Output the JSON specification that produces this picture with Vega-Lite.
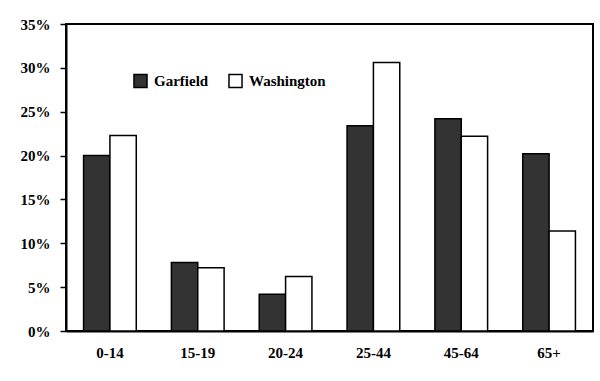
{
  "$schema": "https://vega.github.io/schema/vega-lite/v6.json",
  "width": 527,
  "height": 307,
  "padding": {"left": 66, "top": 24, "right": 7, "bottom": 50},
  "autosize": {"type": "none"},
  "background": "white",
  "config": {
    "view": {"stroke": "black", "strokeWidth": 2},
    "font": "Liberation Serif",
    "axis": {"labelFont": "Liberation Serif", "labelFontWeight": "bold", "labelFontSize": 15, "labelColor": "black", "domainColor": "black", "tickColor": "black", "grid": false, "title": null}
  },
  "data": {
    "values": [
      {"age": "0-14", "county": "Garfield", "pct": 20.0},
      {"age": "0-14", "county": "Washington", "pct": 22.3},
      {"age": "15-19", "county": "Garfield", "pct": 7.8},
      {"age": "15-19", "county": "Washington", "pct": 7.2},
      {"age": "20-24", "county": "Garfield", "pct": 4.2},
      {"age": "20-24", "county": "Washington", "pct": 6.2},
      {"age": "25-44", "county": "Garfield", "pct": 23.4},
      {"age": "25-44", "county": "Washington", "pct": 30.6},
      {"age": "45-64", "county": "Garfield", "pct": 24.2},
      {"age": "45-64", "county": "Washington", "pct": 22.2},
      {"age": "65+", "county": "Garfield", "pct": 20.2},
      {"age": "65+", "county": "Washington", "pct": 11.4}
    ]
  },
  "mark": {"type": "bar", "stroke": "black", "strokeWidth": 1.5},
  "encoding": {
    "x": {
      "field": "age", "type": "nominal", "sort": null,
      "scale": {"paddingInner": 0.4, "paddingOuter": 0.2},
      "axis": {"labelAngle": 0, "ticks": false, "labelPadding": 14, "domainWidth": 2}
    },
    "xOffset": {"field": "county", "type": "nominal", "scale": {"paddingInner": 0}},
    "y": {
      "field": "pct", "type": "quantitative",
      "scale": {"domain": [0, 35], "nice": false},
      "axis": {"values": [0, 5, 10, 15, 20, 25, 30, 35], "labelExpr": "datum.value + '%'", "tickSize": 6, "tickWidth": 1.5, "domainWidth": 2, "labelPadding": 10}
    },
    "fill": {
      "field": "county", "type": "nominal",
      "scale": {"domain": ["Garfield", "Washington"], "range": ["#333333", "#ffffff"]},
      "legend": {
        "title": null, "orient": "none", "direction": "horizontal",
        "legendX": 67, "legendY": 49,
        "symbolType": "square", "symbolSize": 170, "symbolStrokeColor": "black", "symbolStrokeWidth": 1.5,
        "labelFont": "Liberation Serif", "labelFontWeight": "bold", "labelFontSize": 15, "labelColor": "black",
        "columnPadding": 16, "labelOffset": 6
      }
    }
  }
}
